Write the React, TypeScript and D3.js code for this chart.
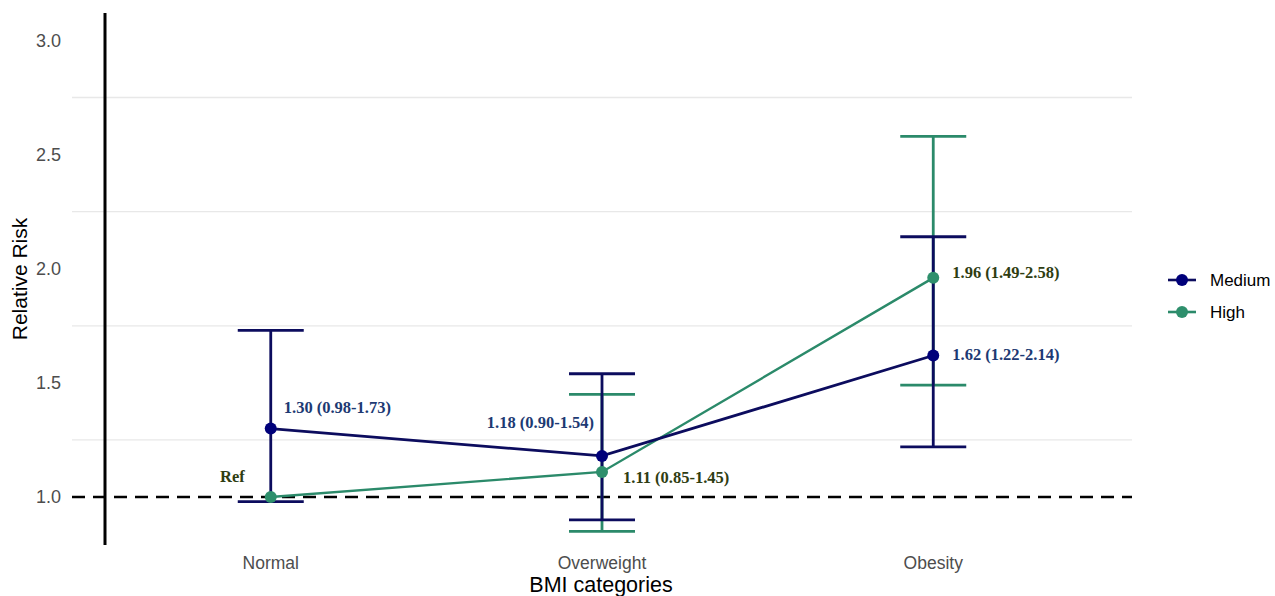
import React from "react";
import * as d3 from "d3";

const categories = ["Normal", "Overweight", "Obesity"];
const seriesNames = ["Medium", "High"];
const mediumRR = [1.3, 1.18, 1.62];
const mediumLow = [0.98, 0.9, 1.22];
const mediumHigh = [1.73, 1.54, 2.14];
const highRR = [1.0, 1.11, 1.96];
const highLow = [null, 0.85, 1.49];
const highHigh = [null, 1.45, 2.58];
const yTicks = [1.0, 1.5, 2.0, 2.5, 3.0];
const gridValues = [1.25, 1.75, 2.25, 2.75];

const W = 1275;
const H = 596;
const colors = { Medium: "#0c0c5e", High: "#2b8a6a" };
const dotColors = { Medium: "#00007a", High: "#2e8f6c" };
const labelColors = { Medium: "#1d3a73", High: "#2f3d12" };

const fmt = (v: number) => v.toFixed(2);

// label placement relative to point: [dx, dy, anchor]
const mediumLabelPos: [number, number, string][] = [
  [13, -16, "start"],
  [-8, -28, "end"],
  [19, 5, "start"],
];
const highLabelPos: [number, number, string][] = [
  [-26, -15, "end"],
  [21, 11, "start"],
  [19, 0, "start"],
];

export default function App() {
  const x = d3.scalePoint<string>().domain(categories).range([72, 1132]).padding(0.6);
  const y = d3.scaleLinear().domain([0.79, 3.12]).range([545, 13]);
  const capHalf = 33;

  const line = d3
    .line<number>()
    .x((_, i) => x(categories[i]) as number)
    .y((d) => y(d));

  const series = [
    { name: "High", rr: highRR, lo: highLow, hi: highHigh },
    { name: "Medium", rr: mediumRR, lo: mediumLow, hi: mediumHigh },
  ];

  const errorBars = (s: any) =>
    s.rr.map((_: number, i: number) => {
      const lo = s.lo[i];
      const hi = s.hi[i];
      if (lo == null || hi == null) return null;
      const cx = x(categories[i]) as number;
      const c = colors[s.name as "Medium" | "High"];
      return (
        <g key={s.name + i} stroke={c} strokeWidth={2.8}>
          <line x1={cx} x2={cx} y1={y(lo)} y2={y(hi)} />
          <line x1={cx - capHalf} x2={cx + capHalf} y1={y(lo)} y2={y(lo)} />
          <line x1={cx - capHalf} x2={cx + capHalf} y1={y(hi)} y2={y(hi)} />
        </g>
      );
    });

  return (
    <svg width={W} height={H} style={{ position: "absolute", left: 0, top: 0, background: "#fff" }}>
      <rect width={W} height={H} fill="#fff" />
      {/* grid */}
      {gridValues.map((g) => (
        <line key={g} x1={72} x2={1132} y1={y(g)} y2={y(g)} stroke="#e8e8e8" strokeWidth={1.3} />
      ))}
      {/* reference dashed line */}
      <line x1={72} x2={1132} y1={y(1)} y2={y(1)} stroke="#000" strokeWidth={2.5} strokeDasharray="13,8" />
      {/* y axis line */}
      <line x1={105} x2={105} y1={13} y2={545} stroke="#000" strokeWidth={3} />
      {yTicks.map((t) => (
        <text
          key={t}
          x={61}
          y={y(t)}
          dy="0.35em"
          textAnchor="end"
          fontFamily="'Liberation Sans', Arial, sans-serif"
          fontSize={18}
          fill="#4d4d4d"
        >
          {t.toFixed(1)}
        </text>
      ))}
      {categories.map((c) => (
        <text
          key={c}
          x={x(c)}
          y={569}
          textAnchor="middle"
          fontFamily="'Liberation Sans', Arial, sans-serif"
          fontSize={17.5}
          fill="#4d4d4d"
        >
          {c}
        </text>
      ))}
      <text
        x={601}
        y={592}
        textAnchor="middle"
        fontFamily="'Liberation Sans', Arial, sans-serif"
        fontSize={21.5}
        fill="#000"
      >
        BMI categories
      </text>
      <text
        transform={`translate(27,${(13 + 545) / 2}) rotate(-90)`}
        textAnchor="middle"
        fontFamily="'Liberation Sans', Arial, sans-serif"
        fontSize={21}
        fill="#000"
      >
        Relative Risk
      </text>

      {/* error bars */}
      {series.map((s) => errorBars(s))}

      {/* lines */}
      {series.map((s) => (
        <path
          key={s.name}
          d={line(s.rr) as string}
          fill="none"
          stroke={colors[s.name as "Medium" | "High"]}
          strokeWidth={s.name === "Medium" ? 2.8 : 2.4}
        />
      ))}
      {/* points */}
      {series.map((s) =>
        s.rr.map((v, i) => (
          <circle
            key={s.name + "p" + i}
            cx={x(categories[i])}
            cy={y(v)}
            r={6}
            fill={dotColors[s.name as "Medium" | "High"]}
          />
        ))
      )}

      {/* value labels */}
      {mediumRR.map((v, i) => {
        const [dx, dy, anchor] = mediumLabelPos[i];
        return (
          <text
            key={"ml" + i}
            x={(x(categories[i]) as number) + dx}
            y={y(v) + dy}
            textAnchor={anchor}
            fontFamily="'Liberation Serif', 'Times New Roman', serif"
            fontWeight="bold"
            fontSize={16.5}
            fill={labelColors.Medium}
          >
            {`${fmt(v)} (${fmt(mediumLow[i])}-${fmt(mediumHigh[i])})`}
          </text>
        );
      })}
      {highRR.map((v, i) => {
        const [dx, dy, anchor] = highLabelPos[i];
        const lo = highLow[i];
        const hi = highHigh[i];
        return (
          <text
            key={"hl" + i}
            x={(x(categories[i]) as number) + dx}
            y={y(v) + dy}
            textAnchor={anchor}
            fontFamily="'Liberation Serif', 'Times New Roman', serif"
            fontWeight="bold"
            fontSize={16.5}
            fill={labelColors.High}
          >
            {lo == null || hi == null ? "Ref" : `${fmt(v)} (${fmt(lo)}-${fmt(hi)})`}
          </text>
        );
      })}

      {/* legend */}
      {seriesNames.map((n, i) => {
        const ly = 280 + i * 32;
        const key = n as "Medium" | "High";
        return (
          <g key={n}>
            <line x1={1168} x2={1196} y1={ly} y2={ly} stroke={colors[key]} strokeWidth={2.6} />
            <circle cx={1182} cy={ly} r={6} fill={dotColors[key]} />
            <text
              x={1210}
              y={ly}
              dy="0.35em"
              fontFamily="'Liberation Sans', Arial, sans-serif"
              fontSize={17}
              fill="#000"
            >
              {n}
            </text>
          </g>
        );
      })}
    </svg>
  );
}
